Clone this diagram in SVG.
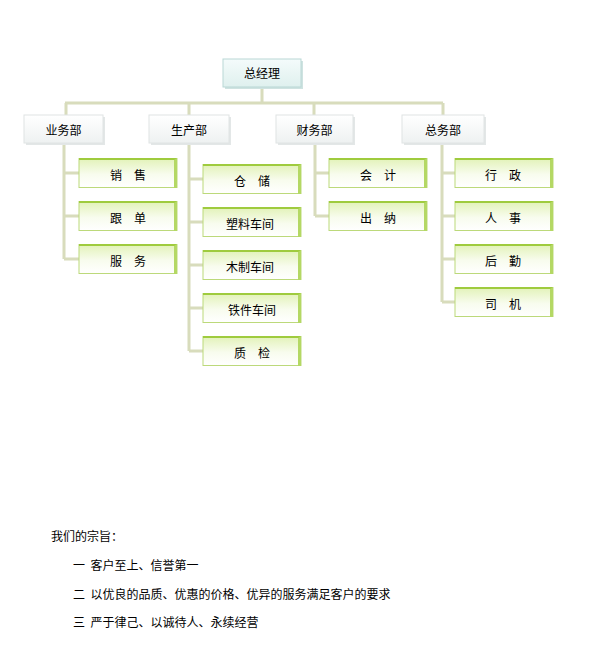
<svg xmlns="http://www.w3.org/2000/svg" width="594" height="650" viewBox="0 0 594 650">
<defs>
<linearGradient id="leafG" x1="0" y1="0" x2="0" y2="1">
<stop offset="0" stop-color="#e2f2b8"/>
<stop offset="0.55" stop-color="#f8fcee"/>
<stop offset="1" stop-color="#ffffff"/>
</linearGradient>
<linearGradient id="deptG" x1="0" y1="0" x2="0" y2="1">
<stop offset="0" stop-color="#ffffff"/>
<stop offset="1" stop-color="#eef1f1"/>
</linearGradient>
<linearGradient id="topG" x1="0" y1="0" x2="0" y2="1">
<stop offset="0" stop-color="#f4fbfb"/>
<stop offset="1" stop-color="#dff0ee"/>
</linearGradient>
<style>
.conn{stroke:#d8dcbc;stroke-width:3;fill:none}
.leaf{fill:url(#leafG);stroke:#bcd97a;stroke-width:1}
.ltop{fill:#9fcb3e}
.lside{fill:#b4d864}
.dshadow{fill:#e3e7e7}
.dept{fill:url(#deptG);stroke:#e0e4e4;stroke-width:1}
.tshadow{fill:#cfe3e1}
.top{fill:url(#topG);stroke:#b9d7d5;stroke-width:1}
text{font-family:"Noto Sans CJK SC","Liberation Sans",sans-serif;font-size:12px;fill:#000}
.c{text-anchor:middle}
</style>
</defs>
<rect width="594" height="650" fill="#ffffff"/>
<g id="connectors">
<path class="conn" d="M262 87V103M65 103H443M66 103V115M189 103V115M314 103V115M443 103V115"/>
<path class="conn" d="M64 143V259M64 173H79M64 216H79M64 259H79"/>
<path class="conn" d="M189 143V351M189 179H203M189 222H203M189 265H203M189 308H203M189 351H203"/>
<path class="conn" d="M315 143V216M315 173H329M315 216H329"/>
<path class="conn" d="M442 143V302M442 173H455M442 216H455M442 259H455M442 302H455"/>
</g>
<g id="n-zjl">
<rect class="tshadow" x="225" y="61" width="78" height="28"/>
<rect class="top" x="223" y="59" width="78" height="28"/>
<text class="c" x="262" y="78">总经理</text>
</g>
<g id="n-ywb">
<rect class="dshadow" x="26" y="117" width="79" height="28"/>
<rect class="dept" x="24" y="115" width="79" height="28"/>
<text class="c" x="63.5" y="135">业务部</text>
</g>
<g id="n-scb">
<rect class="dshadow" x="151" y="117" width="80" height="28"/>
<rect class="dept" x="149" y="115" width="80" height="28"/>
<text class="c" x="189" y="135">生产部</text>
</g>
<g id="n-cwb">
<rect class="dshadow" x="278" y="117" width="77" height="28"/>
<rect class="dept" x="276" y="115" width="77" height="28"/>
<text class="c" x="314.5" y="135">财务部</text>
</g>
<g id="n-zwb">
<rect class="dshadow" x="404" y="117" width="82" height="28"/>
<rect class="dept" x="402" y="115" width="82" height="28"/>
<text class="c" x="443" y="135">总务部</text>
</g>
<g id="n-xs"><rect class="leaf" x="79" y="158.5" width="98" height="29"/><rect class="ltop" x="79" y="158" width="98" height="2"/><polygon class="lside" points="174,160 177,158 177,188 174,188"/><text class="c" x="128" y="180">销　售</text></g>
<g id="n-gd"><rect class="leaf" x="79" y="201.5" width="98" height="29"/><rect class="ltop" x="79" y="201" width="98" height="2"/><polygon class="lside" points="174,203 177,201 177,231 174,231"/><text class="c" x="128" y="223">跟　单</text></g>
<g id="n-fw"><rect class="leaf" x="79" y="244.5" width="98" height="29"/><rect class="ltop" x="79" y="244" width="98" height="2"/><polygon class="lside" points="174,246 177,244 177,274 174,274"/><text class="c" x="128" y="266">服　务</text></g>
<g id="n-cc"><rect class="leaf" x="203" y="164.5" width="98" height="29"/><rect class="ltop" x="203" y="164" width="98" height="2"/><polygon class="lside" points="298,166 301,164 301,194 298,194"/><text class="c" x="252" y="186">仓　储</text></g>
<g id="n-slcj"><rect class="leaf" x="203" y="207.5" width="98" height="29"/><rect class="ltop" x="203" y="207" width="98" height="2"/><polygon class="lside" points="298,209 301,207 301,237 298,237"/><text class="c" x="250" y="229">塑料车间</text></g>
<g id="n-mzcj"><rect class="leaf" x="203" y="250.5" width="98" height="29"/><rect class="ltop" x="203" y="250" width="98" height="2"/><polygon class="lside" points="298,252 301,250 301,280 298,280"/><text class="c" x="250" y="272">木制车间</text></g>
<g id="n-tjcj"><rect class="leaf" x="203" y="293.5" width="98" height="29"/><rect class="ltop" x="203" y="293" width="98" height="2"/><polygon class="lside" points="298,295 301,293 301,323 298,323"/><text class="c" x="252" y="315">铁件车间</text></g>
<g id="n-zj"><rect class="leaf" x="203" y="336.5" width="98" height="29"/><rect class="ltop" x="203" y="336" width="98" height="2"/><polygon class="lside" points="298,338 301,336 301,366 298,366"/><text class="c" x="252" y="358">质　检</text></g>
<g id="n-kj"><rect class="leaf" x="329" y="158.5" width="98" height="29"/><rect class="ltop" x="329" y="158" width="98" height="2"/><polygon class="lside" points="424,160 427,158 427,188 424,188"/><text class="c" x="378" y="180">会　计</text></g>
<g id="n-cn"><rect class="leaf" x="329" y="201.5" width="98" height="29"/><rect class="ltop" x="329" y="201" width="98" height="2"/><polygon class="lside" points="424,203 427,201 427,231 424,231"/><text class="c" x="378" y="223">出　纳</text></g>
<g id="n-xz"><rect class="leaf" x="455" y="158.5" width="98" height="29"/><rect class="ltop" x="455" y="158" width="98" height="2"/><polygon class="lside" points="550,160 553,158 553,188 550,188"/><text class="c" x="503" y="180">行　政</text></g>
<g id="n-rs"><rect class="leaf" x="455" y="201.5" width="98" height="29"/><rect class="ltop" x="455" y="201" width="98" height="2"/><polygon class="lside" points="550,203 553,201 553,231 550,231"/><text class="c" x="503" y="223">人　事</text></g>
<g id="n-hq"><rect class="leaf" x="455" y="244.5" width="98" height="29"/><rect class="ltop" x="455" y="244" width="98" height="2"/><polygon class="lside" points="550,246 553,244 553,274 550,274"/><text class="c" x="503" y="266">后　勤</text></g>
<g id="n-sj"><rect class="leaf" x="455" y="287.5" width="98" height="29"/><rect class="ltop" x="455" y="287" width="98" height="2"/><polygon class="lside" points="550,289 553,287 553,317 550,317"/><text class="c" x="503" y="309">司　机</text></g>
<g id="mission">
<text x="51" y="541">我们的宗旨：</text>
<text x="73" y="570" xml:space="preserve">一  客户至上、信誉第一</text>
<text x="73" y="599" xml:space="preserve">二  以优良的品质、优惠的价格、优异的服务满足客户的要求</text>
<text x="73" y="627" xml:space="preserve">三  严于律己、以诚待人、永续经营</text>
</g>
</svg>
